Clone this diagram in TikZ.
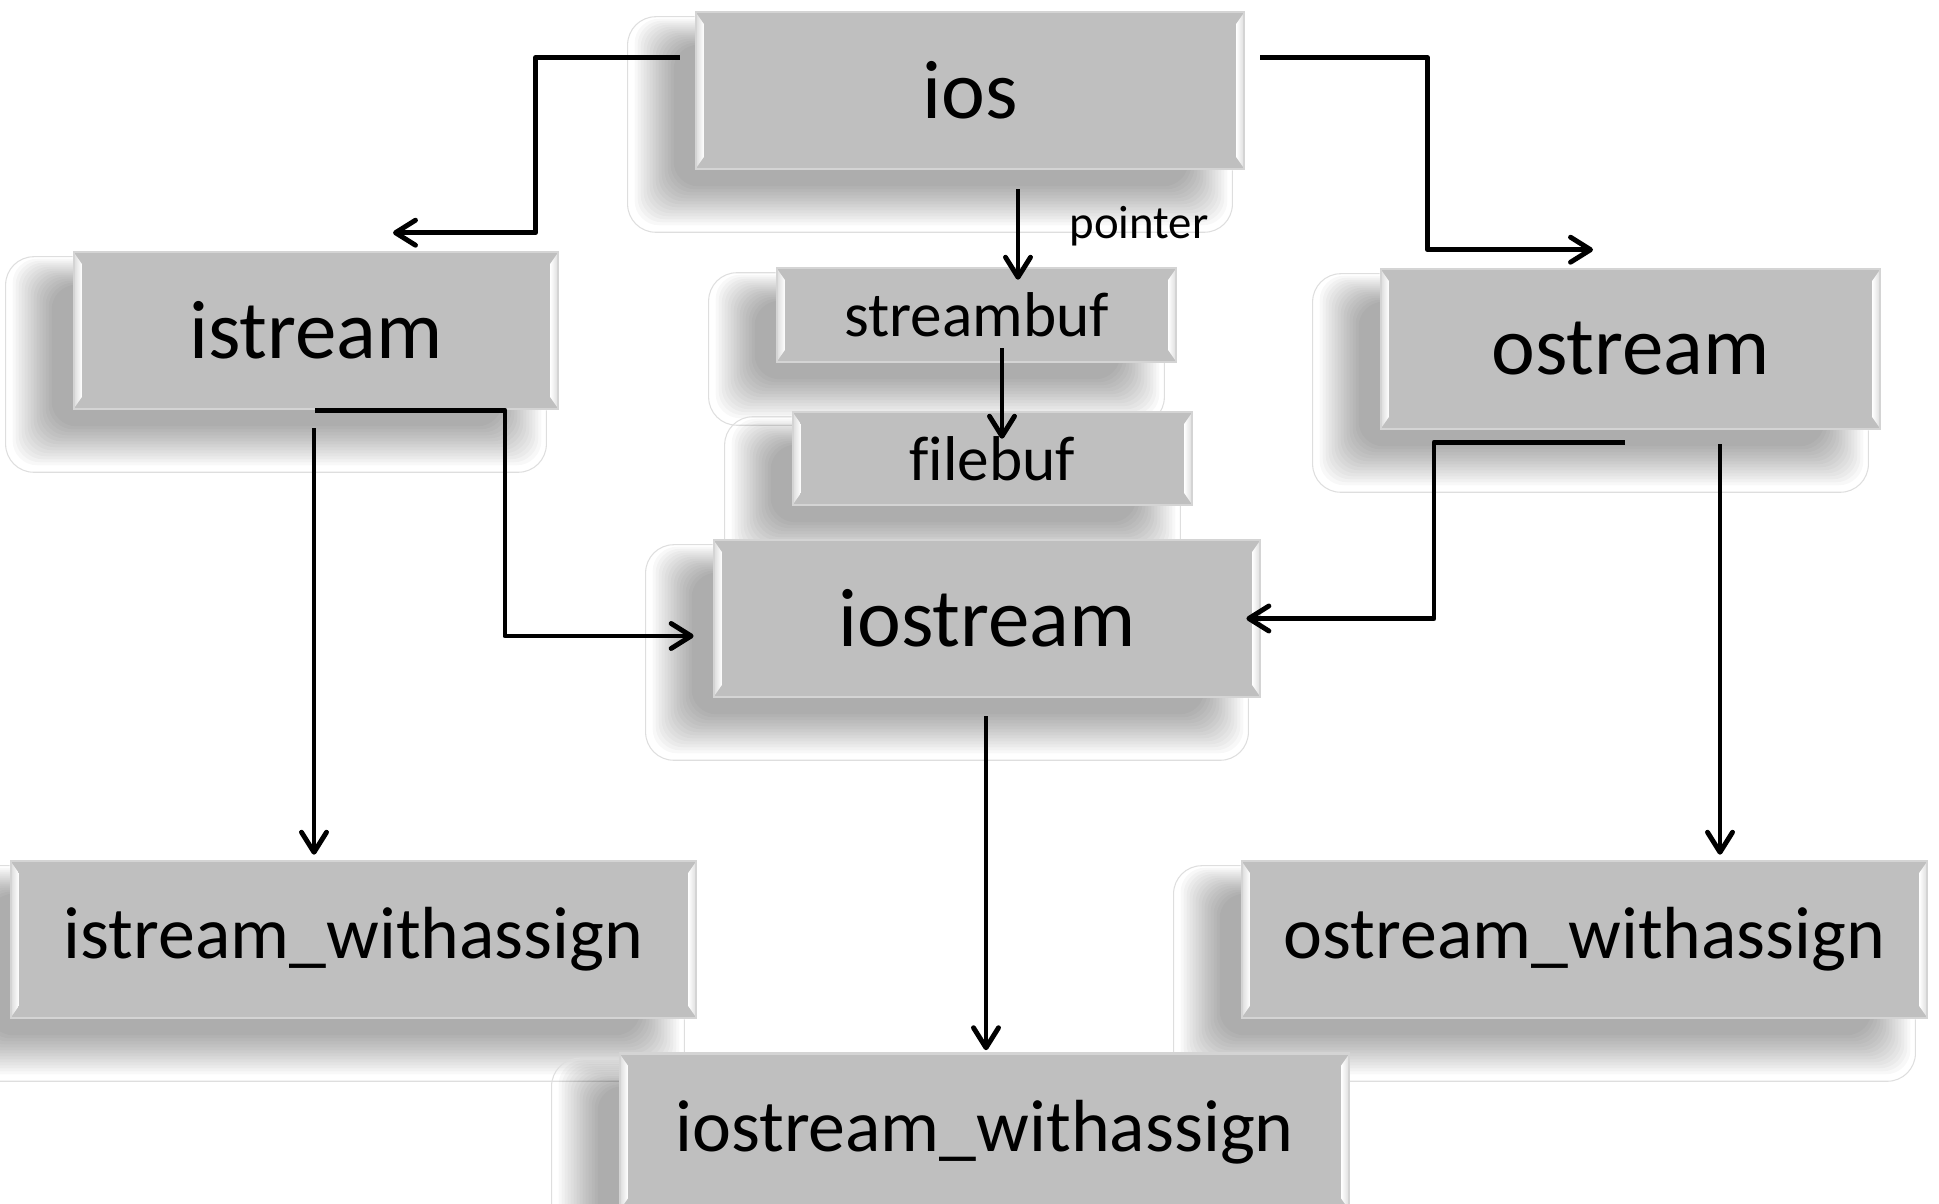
\documentclass[tikz,border=0pt]{standalone}
\usepackage{fontspec}
\setmainfont{Carlito}[Ligatures=NoCommon]
\usetikzlibrary{arrows.meta,calc,backgrounds}

\definecolor{boxgray}{RGB}{191,191,191}
\definecolor{boxedge}{RGB}{212,212,212}
\definecolor{shadeline}{RGB}{222,222,222}

\newcommand\bigfont{\fontsize{23.6pt}{28pt}\selectfont}
\newcommand\wafont{\fontsize{21pt}{25pt}\selectfont}
\newcommand\buffont{\fontsize{18pt}{22pt}\selectfont}
\newcommand\smallfont{\fontsize{13.3pt}{16pt}\selectfont}

% soft cast shadow below and to the left of a class box
\newcommand\castshadow[1]{%
  \foreach \k in {0,...,13}{%
    \fill[black, opacity=0.027, rounded corners=7pt]
      ($(#1.north west)+(-60+3*\k,8+2*\k)$) rectangle
      ($(#1.south east)+(-18-3*\k,55-3*\k)$);
  }%
  \draw[shadeline, line width=0.3pt, rounded corners=8pt]
    ($(#1.north west)+(0,6)$) -- ($(#1.north west)+(-67,6)$)
    -- ($(#1.south west)+(-67,62)$) -- ($(#1.south east)+(-13,62)$)
    -- ($(#1.south east)+(-13,0)$);
}

\tikzset{
  cls/.style={draw=boxedge, line width=0.7pt, fill=boxgray, inner sep=0pt,
    text=black,
    path picture={
      \path (path picture bounding box.north west) coordinate (bnw)
            (path picture bounding box.south east) coordinate (bse)
            (path picture bounding box.north east) coordinate (bne)
            (path picture bounding box.south west) coordinate (bsw);
      \shade[left color=black!12, right color=white]
        ($(bnw)+(1,2)$) -- ($(bnw)+(8,12)$) -- ($(bsw)+(8,-12)$) -- ($(bsw)+(1,-2)$) -- cycle;
      \shade[left color=white, right color=black!12]
        ($(bne)+(-1,2)$) -- ($(bne)+(-8,12)$) -- ($(bse)+(-8,-12)$) -- ($(bse)+(-1,-2)$) -- cycle;
    }},
  link/.style={line width=1.4pt, line join=round,
    -{Straight Barb[length=2mm,width=2.5mm,round]}},
}

\begin{document}
\begin{tikzpicture}[x=0.01cm, y=-0.01cm]
  \useasboundingbox (0,0) rectangle (1939,1204);
  \clip (0,0) rectangle (1939,1204);

  % class boxes
  \node[cls, minimum width=5.48cm, minimum height=1.57cm, font=\bigfont]
    (ios) at (970,90.5) {ios};
  \node[cls, minimum width=4.84cm, minimum height=1.57cm, font=\bigfont]
    (istream) at (316,330.5) {istream};
  \node[cls, minimum width=4.99cm, minimum height=1.60cm, font=\bigfont]
    (ostream) at (1630.5,349) {ostream};
  \node[cls, minimum width=3.99cm, minimum height=0.94cm, font=\buffont]
    (streambuf) at (976.5,315) {streambuf};
  \node[cls, minimum width=3.99cm, minimum height=0.93cm, font=\buffont]
    (filebuf) at (992.5,458.5) {filebuf};
  \node[cls, minimum width=5.46cm, minimum height=1.57cm, font=\bigfont]
    (iostream) at (987,618.5) {iostream};
  \node[cls, minimum width=6.85cm, minimum height=1.57cm, font=\wafont]
    (isw) at (353.5,939.5) {istream\_withassign};
  \node[cls, minimum width=6.85cm, minimum height=1.57cm, font=\wafont]
    (osw) at (1584.5,939.5) {ostream\_withassign};
  \node[cls, minimum width=7.29cm, minimum height=1.57cm, font=\wafont]
    (iosw) at (984.5,1132) {iostream\_withassign};

  \node[font=\smallfont, inner sep=0pt] (ptr) at (1139,226) {pointer};

  % shadows behind the boxes
  \begin{scope}[on background layer]
    \castshadow{ios}
    \castshadow{istream}
    \castshadow{ostream}
    \castshadow{streambuf}
    \castshadow{filebuf}
    \castshadow{iostream}
    \castshadow{isw}
    \castshadow{osw}
    \castshadow{iosw}
  \end{scope}

  % connector end points
  \coordinate (s1) at ($(ios.west)+(-15,-33)$);
  \coordinate (e1) at ($(istream.north)+(77,-18)$);
  \coordinate (s2) at ($(ios.east)+(15,-33)$);
  \coordinate (e2) at ($(ostream.north)+(-37.5,-18)$);
  \coordinate (s3) at ($(ios.south)+(48,19)$);
  \coordinate (e3) at ($(streambuf.north)+(41.5,13)$);
  \coordinate (s4) at ($(streambuf.south)+(25.5,-15)$);
  \coordinate (e4) at ($(filebuf.north)+(9.5,28)$);
  \coordinate (s5) at ($(istream.south)+(-1,0)$);
  \coordinate (e5) at ($(iostream.west)+(-19,17.5)$);
  \coordinate (s6) at ($(istream.south)+(-2,18)$);
  \coordinate (e6) at ($(isw.north)+(-39.5,-5)$);
  \coordinate (s7) at ($(ostream.south)+(-5.5,12)$);
  \coordinate (e7) at ($(iostream.east)+(-15,0)$);
  \coordinate (s8) at ($(ostream.south)+(89.5,14)$);
  \coordinate (e8) at ($(osw.north)+(135.5,-5)$);
  \coordinate (s9) at ($(iostream.south)+(-1,18)$);
  \coordinate (e9) at ($(iosw.north)+(1.5,-2)$);

  % connectors
  \draw[link] (s1) -- ++(-144,0) |- (e1);
  \draw[link] (s2) -- ++(167,0) |- (e2);
  \draw[link] (s3) -- (e3);
  \draw[link] (s4) -- (e4);
  \draw[link] (s5) -- ++(190,0) |- (e5);
  \draw[link] (s6) -- (e6);
  \draw[link] (s7) -- ++(-191,0) |- (e7);
  \draw[link] (s8) -- (e8);
  \draw[link] (s9) -- (e9);
\end{tikzpicture}
\end{document}
